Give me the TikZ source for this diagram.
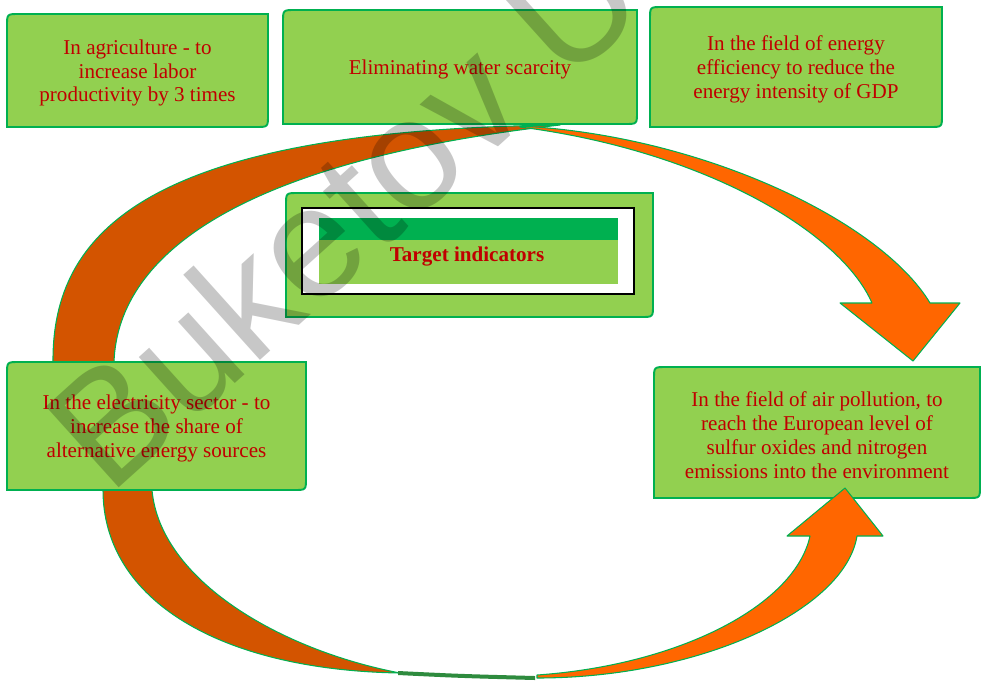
\documentclass[tikz,border=0pt]{standalone}
\usepackage{fontspec}
\setmainfont{Liberation Serif}
\newfontfamily\markfont{Liberation Sans}
\usepackage{tikz}
\definecolor{leaf}{HTML}{92D050}
\definecolor{rim}{HTML}{00B050}
\definecolor{ink}{HTML}{C00000}
\definecolor{rust}{HTML}{D35400}
\definecolor{flame}{HTML}{FF6600}
\definecolor{moss}{HTML}{2E8B3E}
\tikzstyle{goal}=[fill=leaf,draw=rim,line width=1.1pt]
\tikzstyle{goaltext}=[text=ink,align=center,inner sep=0pt,yshift=-1.4pt,font=\fontsize{12}{13.6}\selectfont]
\tikzstyle{band}=[draw=rim,line width=0.6pt,line join=round]
\tikzstyle{watermark}=[text=black,opacity=0.22,inner sep=0pt,rotate=42,anchor=base west,font=\markfont\fontsize{90}{90}\selectfont]
% box with rounded top-left and bottom-right corners: name, x1, y1, x2, y2, text
\def\goal#1#2#3#4#5#6{
  \path[goal] (#2,#3+12) .. controls (#2,#3) .. (#2+12,#3) -- (#4,#3) -- (#4,#5-12)
    .. controls (#4,#5) .. (#4-12,#5) -- (#2,#5) -- cycle;
  \node[goaltext] (#1) at ({(#2+#4)/2},{(#3+#5)/2}) {#6};}

\begin{document}
\begin{tikzpicture}[x=0.02cm,y=-0.02cm]
  \useasboundingbox (0,0) rectangle (982,680);

  % left half of the cycle
  \path[band,fill=rust] (53,362) .. controls (52,230) and (150,130) .. (560,125)
    .. controls (250,160) and (118,250) .. (114,362) -- cycle;
  \path[band,fill=rust] (103,490) .. controls (103,600) and (220,670) .. (400,673)
    .. controls (280,650) and (160,580) .. (152,490) -- cycle;
  \fill[moss] (398,671) .. controls (460,674) .. (535,676) -- (535,680) .. controls (460,678) .. (398,675) -- cycle;

  \goal{agri}{7}{14}{268}{127}{In agriculture - to\\increase labor\\productivity by 3 times}
  \goal{water}{283}{10}{637}{124}{Eliminating water scarcity}
  \goal{energy}{650}{7}{942}{127}{In the field of energy\\efficiency to reduce the\\energy intensity of GDP}
  \goal{power}{7}{362}{306}{490}{In the electricity sector - to\\increase the share of\\alternative energy sources}
  \goal{air}{654}{367}{980}{498}{In the field of air pollution, to\\reach the European level of\\sulfur oxides and nitrogen\\emissions into the environment}

  \goal{hub}{286}{193}{653}{317}{}
  \draw[fill=white,line width=0.6pt] (302,208) rectangle (634,294);
  \fill[rim] (319,218) rectangle (618,240);
  \fill[leaf] (319,240) rectangle (618,284);
  \node[goaltext,font=\fontsize{12}{13.6}\selectfont\bfseries] (target) at (467,254) {Target indicators};

  % right half of the cycle
  \path[band,fill=flame] (520,126) .. controls (700,135) and (880,220) .. (930,303)
    -- (960,303) -- (913,361) -- (840,303) -- (872,303)
    .. controls (840,230) and (700,150) .. (520,127) -- cycle;
  \path[band,fill=flame] (537,678) .. controls (700,678) and (845,610) .. (857,536)
    -- (883,536) -- (845,488) -- (787,536) -- (810,536)
    .. controls (795,605) and (680,665) .. (537,675) -- cycle;

  \node[watermark] (mark) at (109,497) {Buketov U};
\end{tikzpicture}
\end{document}
